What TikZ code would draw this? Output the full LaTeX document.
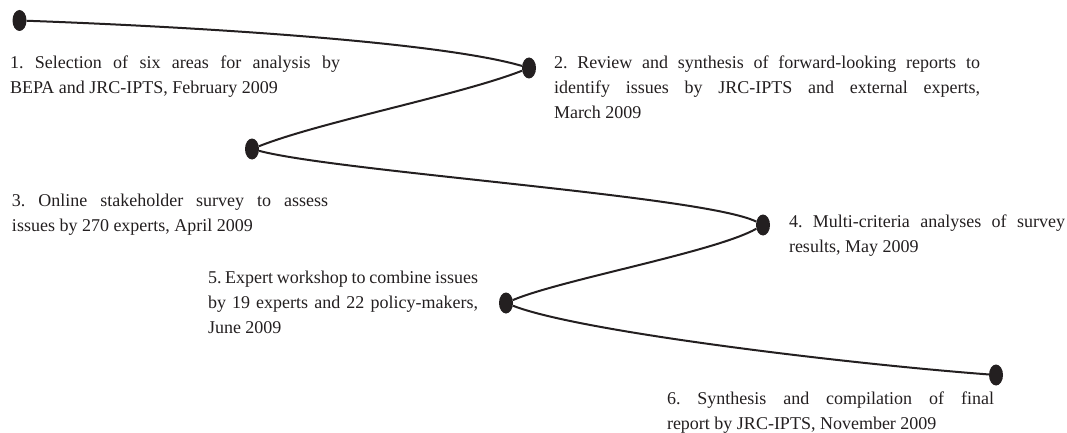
\documentclass[tikz,border=0pt]{standalone}
\usepackage{fontspec}
\setmainfont{Liberation Serif}
\usetikzlibrary{shapes.geometric}
\definecolor{ink}{HTML}{231F20}
\newcommand{\jl}[2]{\makebox[#1][s]{#2}}
\frenchspacing
\begin{document}
\begin{tikzpicture}[x=1pt,y=-1pt,
  dot/.style={ellipse, fill=ink, draw=none, minimum width=14pt, minimum height=21pt, inner sep=0pt},
  conn/.style={draw=ink, line width=2pt},
  lbl/.style={anchor=base west, inner sep=0pt, outer sep=0pt, text=ink, font=\fontsize{18}{25}\selectfont\frenchspacing}]
\useasboundingbox (0,0) rectangle (1067,433);

\node[dot] (d1) at (19.5,20.5) {};
\node[dot] (d2) at (529,68) {};
\node[dot] (d3) at (252,149) {};
\node[dot] (d4) at (763,225) {};
\node[dot] (d5) at (506,303) {};
\node[dot] (d6) at (996,375) {};

\draw[conn] (d1) .. controls (200,27) and (440,42) .. (d2);
\draw[conn] (d2) .. controls (460,95) and (320,122) .. (d3);
\draw[conn] (d3) .. controls (340,172) and (705,196) .. (d4);
\draw[conn] (d4) .. controls (715,252) and (560,280) .. (d5);
\draw[conn] (d5) .. controls (580,332) and (850,364) .. (d6);

\node[lbl] (t1) at (10,69) {\parbox[t]{330pt}{\raggedright
  \jl{330pt}{1. Selection of six areas for analysis by}\\
  BEPA and JRC-IPTS, February 2009}};
\node[lbl] (t2) at (554,69) {\parbox[t]{426pt}{\raggedright
  \jl{426pt}{2. Review and synthesis of forward-looking reports to}\\
  \jl{426pt}{identify issues by JRC-IPTS and external experts,}\\
  March 2009}};
\node[lbl] (t3) at (12,206) {\parbox[t]{316pt}{\raggedright
  \jl{316pt}{3. Online stakeholder survey to assess}\\
  issues by 270 experts, April 2009}};
\node[lbl] (t4) at (789,227) {\parbox[t]{276pt}{\raggedright
  \jl{276pt}{4. Multi-criteria analyses of survey}\\
  results, May 2009}};
\node[lbl] (t5) at (208,283) {\parbox[t]{270pt}{\raggedright
  \jl{270pt}{5. Expert workshop to combine issues}\\
  \jl{270pt}{by 19 experts and 22 policy-makers,}\\
  June 2009}};
\node[lbl] (t6) at (667,404) {\parbox[t]{327pt}{\raggedright
  \jl{327pt}{6. Synthesis and compilation of final}\\
  report by JRC-IPTS, November 2009}};
\end{tikzpicture}
\end{document}
